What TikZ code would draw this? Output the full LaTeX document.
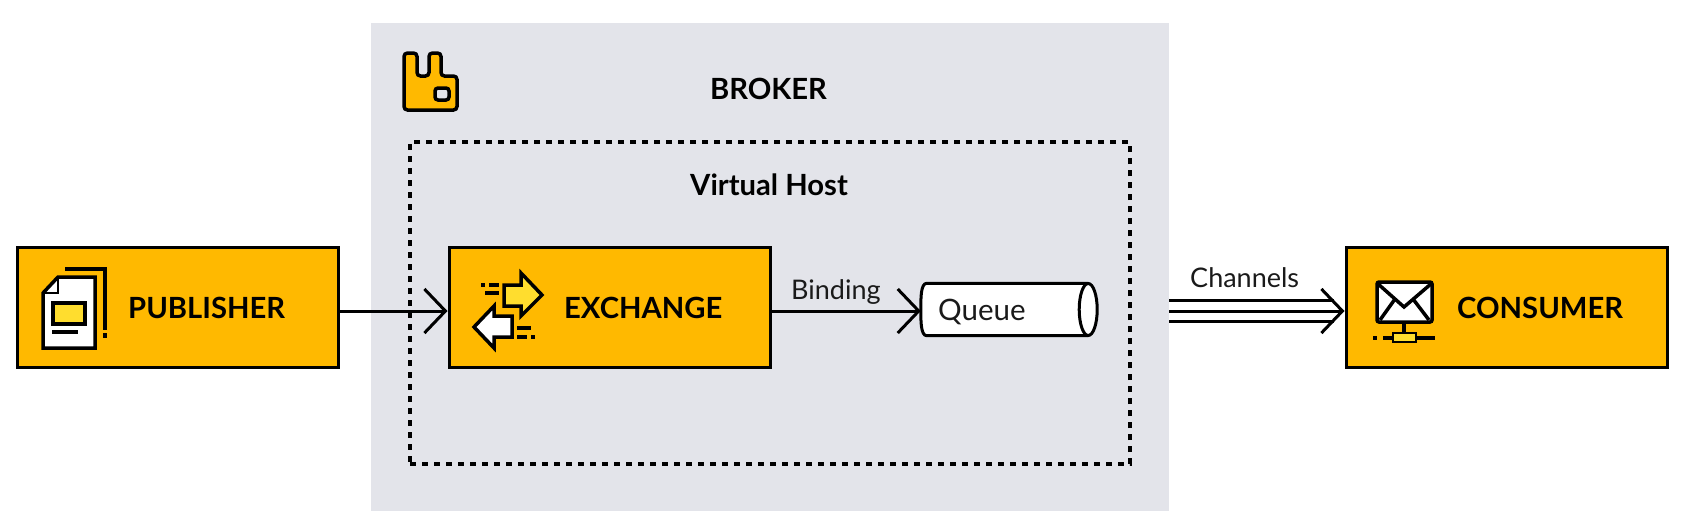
\documentclass[tikz,border=0pt]{standalone}
\usepackage{fontspec}
\setmainfont{Lato}
\usepackage{xcolor}
\usepackage{tikz}
\usetikzlibrary{arrows.meta}
\definecolor{amber}{HTML}{FFB900}
\definecolor{lemon}{HTML}{FFDD2E}
\definecolor{brokergrey}{HTML}{E3E4EA}
\definecolor{ink}{HTML}{1A1A1A}
\tikzset{x=1pt,y=-1pt,
    line/.style={draw=black,line width=3pt},
    appbox/.style={line,fill=amber,minimum width=321pt,minimum height=120pt,inner sep=0pt},
    boxtext/.style={font=\fontsize{29.2}{31}\selectfont\bfseries,text=black,inner sep=0pt},
    smalltext/.style={font=\fontsize{27}{30}\selectfont,text=ink,inner sep=0pt,anchor=base west},
    flow/.style={line,-{Straight Barb[length=21pt,width=44pt,line width=3pt]}},
    icon/.style={line width=3.5pt,miter limit=10}}
\begin{document}
\begin{tikzpicture}
    \useasboundingbox (0,0) rectangle (1688,531);
    \node[fill=brokergrey,minimum width=798pt,minimum height=488pt,inner sep=0pt,outer sep=0pt] (broker) at (770,267) {};
    \node[line,line width=3.2pt,dash pattern=on 6pt off 6pt,minimum width=720pt,minimum height=322pt,inner sep=0pt] (vhost) at (770,303) {};
    \node[boxtext] (brokertitle) at (768.5,89) {BROKER};
    \node[boxtext] (vhosttitle) at (769,185) {Virtual Host};

    \node[appbox] (publisher) at (177.5,307.5) {};
    \node[appbox] (exchange) at (609.5,307.5) {};
    \node[appbox] (consumer) at (1506.5,307.5) {};
    \node[boxtext,anchor=west] (publishertext) at (128,308) {PUBLISHER};
    \node[boxtext,anchor=west] (exchangetext) at (564,308) {EXCHANGE};
    \node[boxtext,anchor=west] (consumertext) at (1457,308) {CONSUMER};

    \node[minimum width=176pt,minimum height=52pt,inner sep=0pt] (queue) at (1009,309.5) {};
    \draw[line,fill=white] ([xshift=-9pt]queue.north east) -- ([xshift=6pt]queue.north west)
        .. controls (queue.north west) and ([yshift=12pt]queue.west) .. (queue.west)
        .. controls ([yshift=-12pt]queue.west) and (queue.south west) .. ([xshift=6pt]queue.south west)
        -- ([xshift=-9pt]queue.south east);
    \draw[line,fill=white] ([xshift=-9pt]queue.east) ellipse (9 and 26);
    \node[smalltext,font=\fontsize{29.5}{30}\selectfont] (queuetext) at (938,320) {Queue};
    \node[smalltext] (bindingtext) at (791,299) {Binding};
    \node[smalltext] (channelstext) at (1190,287) {Channels};

    \coordinate (flowline) at (0,311);
    \draw[flow] (publisher.east |- flowline) -- (exchange.west |- flowline);
    \draw[flow] (exchange.east |- flowline) -- (queue.west |- flowline);
    \coordinate (upperline) at (0,300);
    \coordinate (lowerline) at (0,321);
    \draw[line] (broker.east |- upperline) -- ([xshift=-11pt]consumer.west |- upperline);
    \draw[line] (broker.east |- lowerline) -- ([xshift=-11pt]consumer.west |- lowerline);
    \draw[flow] (broker.east |- flowline) -- (consumer.west |- flowline);

    % broker logo
    \draw[icon,fill=amber,rounded corners=3.5pt] (404,53) -- (417,53) -- (417,76) -- (429,76) -- (429,53) -- (441,53)
        -- (441,76) -- (457,76) -- (457,110) -- (404,110) -- cycle;
    \draw[icon,fill=brokergrey,rounded corners=3pt] (435,88) rectangle (449,100);

    % publisher icon
    \draw[icon] (65,269) -- (105,269) -- (105,330);
    \draw[icon] (105,333) -- (105,338);
    \draw[icon,fill=white] (43,293) -- (58,277) -- (95,277) -- (95,348) -- (43,348) -- cycle;
    \draw[line width=2pt] (43,293) -- (58,293) -- (58,277);
    \draw[icon,fill=lemon] (53,303) rectangle (85,324);
    \draw[icon] (52,332) -- (78,332);

    % exchange icon
    \draw[icon,fill=lemon] (504,285) -- (521,285) -- (521,273) -- (542,295) -- (521,316) -- (521,306) -- (504,306) -- cycle;
    \draw[icon,fill=white] (512,316) -- (494,316) -- (494,306) -- (474,327) -- (494,348) -- (494,337) -- (512,337) -- cycle;
    \draw[icon] (481,285) -- (485,285) (489,285) -- (499,285) (485,293) -- (499,293);
    \draw[icon] (517,328) -- (531,328) (517,337) -- (527,337) (531,337) -- (535,337);

    % consumer icon
    \draw[icon,fill=white,rounded corners=2pt] (1377,282) rectangle (1432,322);
    \draw[icon] (1377,283) -- (1404,307) -- (1432,283);
    \draw[icon] (1380,320) -- (1395,299) (1429,320) -- (1413,299);
    \draw[icon] (1404,322) -- (1404,333);
    \draw[icon] (1383,338) -- (1435,338) (1373,338) -- (1377,338);
    \draw[line width=2.5pt,fill=lemon] (1393,333) rectangle (1416,342);
\end{tikzpicture}
\end{document}
